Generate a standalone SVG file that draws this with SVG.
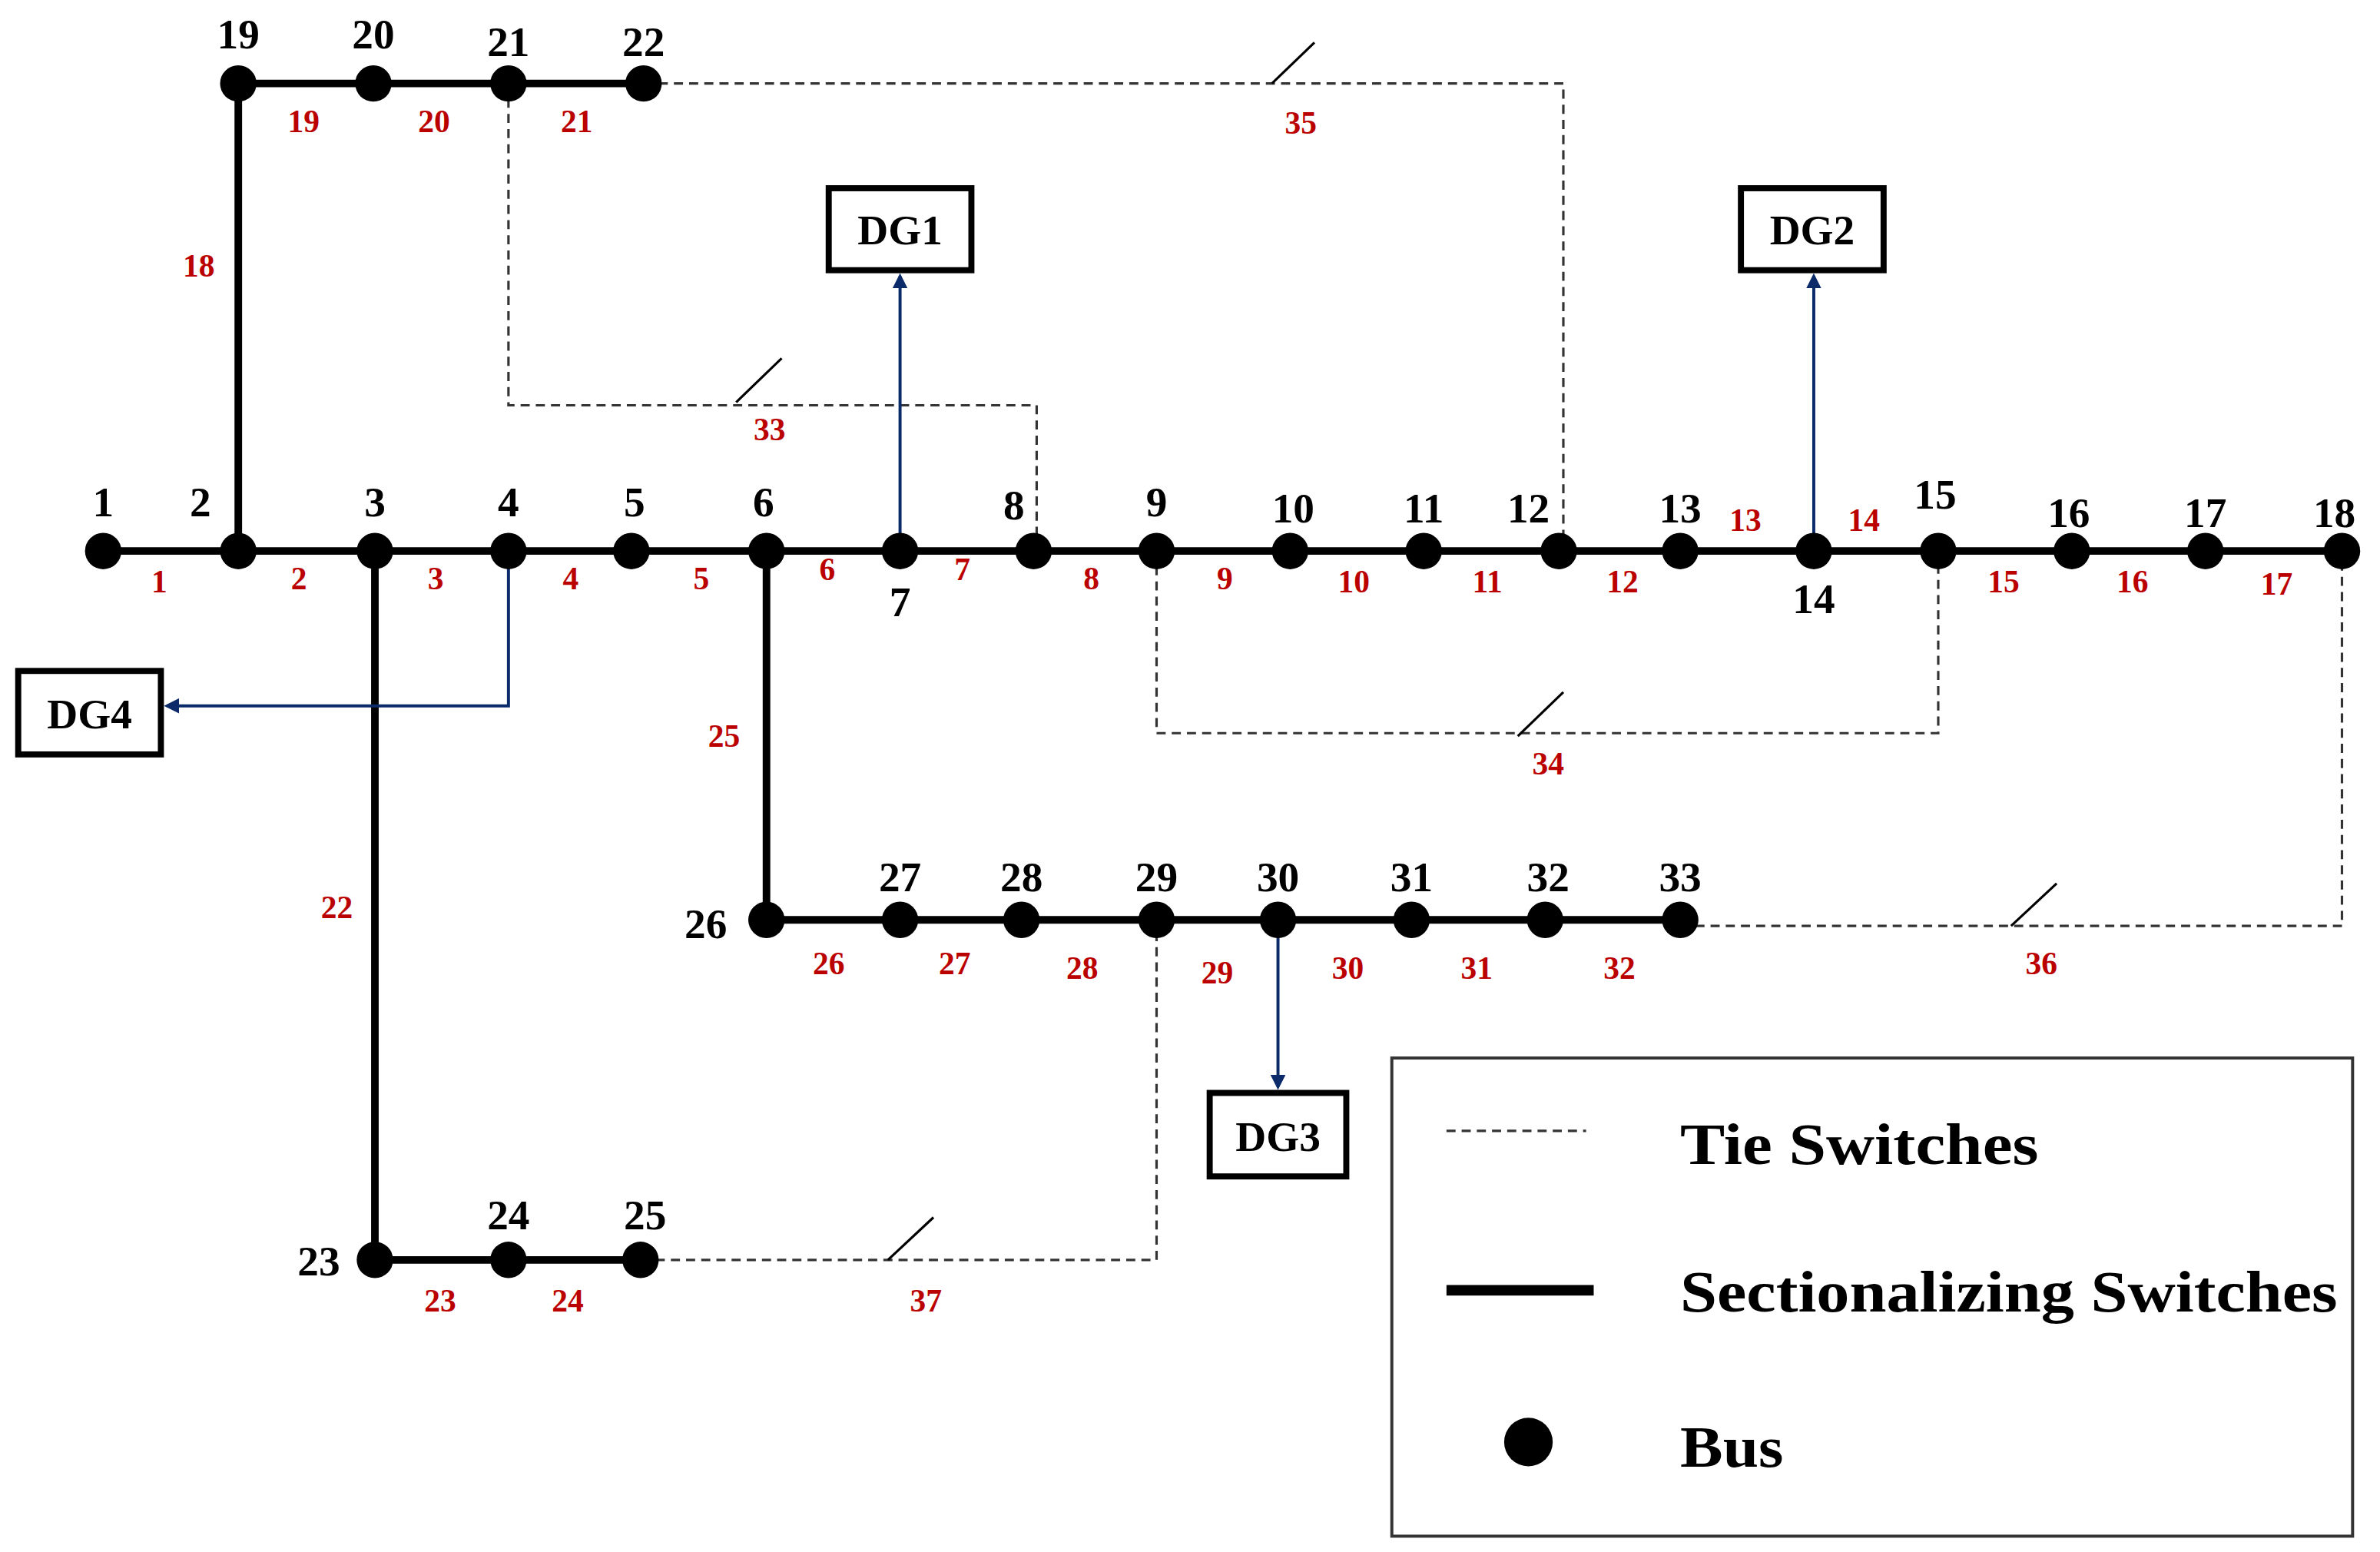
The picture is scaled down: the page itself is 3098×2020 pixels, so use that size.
<svg xmlns="http://www.w3.org/2000/svg" width="3098" height="2020" viewBox="0 0 3098 2020">
<style>
.ln{stroke:#000;stroke-width:5;fill:none}
.tie{stroke:#333;stroke-width:1.6;fill:none;stroke-dasharray:6 4}
.dg{stroke:#0a2a6a;stroke-width:2;fill:none;marker-end:url(#ah)}
.bus{fill:#000}
.bl{font-family:"Liberation Serif",serif;font-weight:bold;font-size:28px;fill:#000;text-anchor:middle}
.ll{font-family:"Liberation Serif",serif;font-weight:bold;font-size:21px;fill:#b00;text-anchor:middle}
.box{fill:#fff;stroke:#000;stroke-width:4}
.dt{font-family:"Liberation Serif",serif;font-weight:bold;font-size:28px;fill:#000;text-anchor:middle}
.lg{font-family:"Liberation Serif",serif;font-weight:bold;font-size:38px;fill:#000}
</style>
<defs><marker id="ah" markerWidth="10" markerHeight="10" refX="8" refY="5" orient="auto" markerUnits="userSpaceOnUse"><path d="M0,0 L10,5 L0,10 z" fill="#0a2a6a"/></marker></defs>
<rect width="3098" height="2020" fill="#fff"/>
<g transform="scale(1.9757)">
<g id="connectors">
<path class="ln" d="M68,363 H1543 M157,363 V55 H424 M247,363 V830 H422 M505,363 V606 H1107"/>
<path class="tie" d="M335,55 V267 H683 V363 M424,55 H1030 V363 M762,363 V483 H1277 V363 M1107,610 H1543 V363 M422,830 H762 V606"/>
<path stroke="#000" stroke-width="1.6" d="M485,265 L515,236 M838,55 L866,28 M1000,485 L1030,456 M1325,610 L1355,582 M585,830 L615,802"/>
<path class="dg" d="M593,363 V182"/>
<path class="dg" d="M1195,363 V182"/>
<path class="dg" d="M842,606 V716"/>
<path class="dg" d="M335,363 V465 H110"/>
<g class="ll">
<text x="105" y="390">1</text><text x="197" y="388">2</text><text x="287" y="388">3</text><text x="376" y="388">4</text><text x="462" y="388">5</text><text x="545" y="382">6</text><text x="634" y="382">7</text><text x="719" y="388">8</text><text x="807" y="388">9</text><text x="892" y="390">10</text><text x="980" y="390">11</text><text x="1069" y="390">12</text><text x="1150" y="350">13</text><text x="1228" y="350">14</text><text x="1320" y="390">15</text><text x="1405" y="390">16</text><text x="1500" y="392">17</text><text x="131" y="182">18</text><text x="200" y="87">19</text><text x="286" y="87">20</text><text x="380" y="87">21</text><text x="222" y="605">22</text><text x="290" y="864">23</text><text x="374" y="864">24</text><text x="477" y="492">25</text><text x="546" y="642">26</text><text x="629" y="642">27</text><text x="713" y="645">28</text><text x="802" y="648">29</text><text x="888" y="645">30</text><text x="973" y="645">31</text><text x="1067" y="645">32</text>
<text x="507" y="290">33</text><text x="1020" y="510">34</text><text x="857" y="88">35</text><text x="1345" y="642">36</text><text x="610" y="864">37</text>
</g>
</g>
<g id="buses">
<g class="bus">
<circle cx="68" cy="363" r="12"/><circle cx="157" cy="363" r="12"/><circle cx="247" cy="363" r="12"/><circle cx="335" cy="363" r="12"/><circle cx="416" cy="363" r="12"/><circle cx="505" cy="363" r="12"/><circle cx="593" cy="363" r="12"/><circle cx="681" cy="363" r="12"/><circle cx="762" cy="363" r="12"/><circle cx="850" cy="363" r="12"/><circle cx="938" cy="363" r="12"/><circle cx="1027" cy="363" r="12"/><circle cx="1107" cy="363" r="12"/><circle cx="1195" cy="363" r="12"/><circle cx="1277" cy="363" r="12"/><circle cx="1365" cy="363" r="12"/><circle cx="1453" cy="363" r="12"/><circle cx="1543" cy="363" r="12"/>
<circle cx="157" cy="55" r="12"/><circle cx="246" cy="55" r="12"/><circle cx="335" cy="55" r="12"/><circle cx="424" cy="55" r="12"/>
<circle cx="505" cy="606" r="12"/><circle cx="593" cy="606" r="12"/><circle cx="673" cy="606" r="12"/><circle cx="762" cy="606" r="12"/><circle cx="842" cy="606" r="12"/><circle cx="930" cy="606" r="12"/><circle cx="1018" cy="606" r="12"/><circle cx="1107" cy="606" r="12"/>
<circle cx="247" cy="830" r="12"/><circle cx="335" cy="830" r="12"/><circle cx="422" cy="830" r="12"/>
</g>
<g class="bl">
<text x="68" y="340">1</text><text x="132" y="340">2</text><text x="247" y="340">3</text><text x="335" y="340">4</text><text x="418" y="340">5</text><text x="503" y="340">6</text><text x="593" y="406">7</text><text x="668" y="342">8</text><text x="762" y="340">9</text><text x="852" y="344">10</text><text x="938" y="344">11</text><text x="1007" y="344">12</text><text x="1107" y="344">13</text><text x="1195" y="404">14</text><text x="1275" y="335">15</text><text x="1363" y="347">16</text><text x="1453" y="347">17</text><text x="1538" y="347">18</text>
<text x="157" y="32">19</text><text x="246" y="32">20</text><text x="335" y="37">21</text><text x="424" y="37">22</text>
<text x="465" y="618">26</text><text x="593" y="587">27</text><text x="673" y="587">28</text><text x="762" y="587">29</text><text x="842" y="587">30</text><text x="930" y="587">31</text><text x="1020" y="587">32</text><text x="1107" y="587">33</text>
<text x="210" y="840">23</text><text x="335" y="810">24</text><text x="425" y="810">25</text>
</g>
</g>
<g id="DG1"><rect class="box" x="546" y="124" width="94" height="54"/><text class="dt" x="593" y="161">DG1</text></g>
<g id="DG2"><rect class="box" x="1147" y="124" width="94" height="54"/><text class="dt" x="1194" y="161">DG2</text></g>
<g id="DG3"><rect class="box" x="797" y="720" width="90" height="55"/><text class="dt" x="842" y="758">DG3</text></g>
<g id="DG4"><rect class="box" x="12" y="442" width="94" height="55"/><text class="dt" x="59" y="480">DG4</text></g>
<g id="legend">
<rect x="917" y="697" width="633" height="315" fill="#fff" stroke="#333" stroke-width="2"/>
<path class="tie" d="M953,745 H1045"/>
<path stroke="#000" stroke-width="7" d="M953,850 H1050"/>
<circle cx="1007" cy="950" r="16"/>
<text class="lg" x="1107" y="767" textLength="236" lengthAdjust="spacingAndGlyphs">Tie Switches</text>
<text class="lg" x="1107" y="864" textLength="433" lengthAdjust="spacingAndGlyphs">Sectionalizing Switches</text>
<text class="lg" x="1107" y="966" textLength="68" lengthAdjust="spacingAndGlyphs">Bus</text>
</g>
</g>
</svg>
